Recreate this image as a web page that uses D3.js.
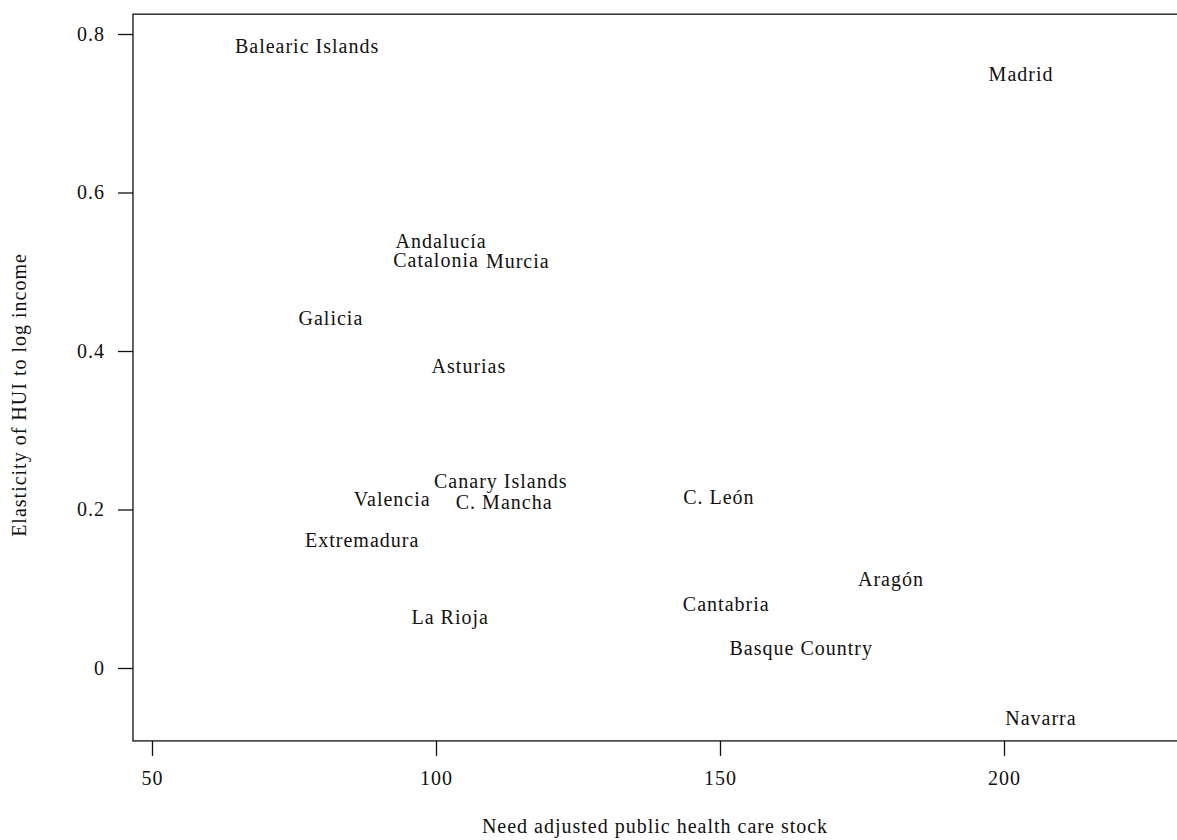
<!DOCTYPE html>
<html>
<head>
<meta charset="utf-8">
<script src="https://cdn.jsdelivr.net/npm/d3@7/dist/d3.min.js"></script>
<style>
  html, body { margin: 0; padding: 0; background: #fff; }
  svg { display: block; }
  text { fill: #111; }
</style>
</head>
<body>
<svg id="chart" width="1177" height="840"></svg>
<script>
// Regions and their estimates
const regions = ["Balearic Islands", "Madrid", "Andalucía", "Catalonia", "Murcia", "Galicia",
  "Asturias", "Canary Islands", "Valencia", "C. Mancha", "C. León", "Extremadura",
  "Aragón", "Cantabria", "La Rioja", "Basque Country", "Navarra"];
const healthStock = [77.3, 203.0, 100.9, 100.0, 114.4, 81.5,
  105.8, 111.4, 92.3, 112.0, 149.8, 87.0,
  180.1, 151.1, 102.5, 164.3, 206.5];
const elasticity = [0.785, 0.750, 0.539, 0.515, 0.514, 0.442,
  0.381, 0.236, 0.213, 0.209, 0.216, 0.162,
  0.112, 0.081, 0.064, 0.025, -0.063];

const xTicks = [50, 100, 150, 200];
const yTicks = [0, 0.2, 0.4, 0.6, 0.8];
const xLimits = [46.65, 232];
const yLimits = [-0.092, 0.825];

const xTitle = "Need adjusted public health care stock";
const yTitle = "Elasticity of HUI to log income";

const svg = d3.select("#chart");
const serif = "'Liberation Serif', 'Times New Roman', serif";
const spacing = "1px";

const x = d3.scaleLinear().domain([50, 200]).range([152, 1004]);
const y = d3.scaleLinear().domain([0, 0.8]).range([668, 34]);

// plot frame
svg.append("rect")
  .attr("x", x(xLimits[0]))
  .attr("y", y(yLimits[1]))
  .attr("width", x(xLimits[1]) - x(xLimits[0]))
  .attr("height", y(yLimits[0]) - y(yLimits[1]))
  .attr("fill", "none")
  .attr("stroke", "#111")
  .attr("stroke-width", 1.3);

// x axis
const xAxis = svg.append("g")
  .attr("transform", `translate(0,${y(yLimits[0])})`)
  .call(d3.axisBottom(x).tickValues(xTicks).tickSize(15).tickPadding(15).tickFormat(d3.format("d")));
xAxis.select(".domain").remove();
xAxis.selectAll("line").attr("stroke", "#111").attr("stroke-width", 1.3);
xAxis.selectAll("text").attr("font-family", serif).attr("font-size", 20)
  .attr("letter-spacing", spacing).attr("fill", "#111");

// y axis
const yAxis = svg.append("g")
  .attr("transform", `translate(${x(xLimits[0])},0)`)
  .call(d3.axisLeft(y).tickValues(yTicks).tickSize(15).tickPadding(13).tickFormat(d => d === 0 ? "0" : d3.format(".1f")(d)));
yAxis.select(".domain").remove();
yAxis.selectAll("line").attr("stroke", "#111").attr("stroke-width", 1.3);
yAxis.selectAll("text").attr("font-family", serif).attr("font-size", 20)
  .attr("letter-spacing", spacing).attr("fill", "#111");

// region labels placed at their values
svg.append("g").selectAll("text")
  .data(regions.map((r, i) => ({ name: r, hx: healthStock[i], el: elasticity[i] })))
  .join("text")
  .attr("x", d => x(d.hx))
  .attr("y", d => y(d.el))
  .attr("text-anchor", "middle")
  .attr("dominant-baseline", "central")
  .attr("font-family", serif)
  .attr("font-size", 20)
  .attr("letter-spacing", spacing)
  .text(d => d.name);

// axis titles
svg.append("text")
  .attr("x", 655).attr("y", 826)
  .attr("text-anchor", "middle")
  .attr("dominant-baseline", "central")
  .attr("font-family", serif).attr("font-size", 20)
  .attr("letter-spacing", spacing)
  .text(xTitle);

svg.append("text")
  .attr("transform", "translate(19,395) rotate(-90)")
  .attr("text-anchor", "middle")
  .attr("dominant-baseline", "central")
  .attr("font-family", serif).attr("font-size", 20)
  .attr("letter-spacing", spacing)
  .text(yTitle);
</script>
</body>
</html>
